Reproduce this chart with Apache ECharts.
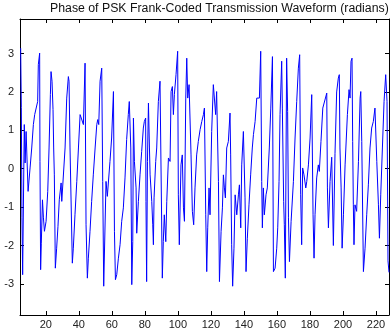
<!DOCTYPE html>
<html>
<head>
<meta charset="utf-8">
<script src="https://cdn.jsdelivr.net/npm/echarts@6/dist/echarts.min.js"></script>
<style>
  html, body { margin: 0; padding: 0; background: #fff; }
  #chart { width: 392px; height: 334px; }
</style>
</head>
<body>
<div id="chart"></div>
<script>
// sample positions and wrapped phase in radians
var sampleIdx = [
    4.8, 5.2, 5.6, 6.0, 7.0, 7.5, 8.1, 9.3, 10.5, 11.5, 12.5, 13.3, 14.5, 15.1, 15.5, 16.3, 16.5, 16.9, 17.3, 18.0,
    18.6, 19.2, 20.2, 21.2, 22.0, 22.8, 23.2, 23.8, 24.4, 24.8, 25.2, 25.8, 26.6, 27.4, 28.2, 29.3, 29.7, 31.7, 32.7, 33.7,
    34.1, 34.7, 36.1, 36.7, 37.7, 38.8, 39.8, 40.8, 41.8, 42.8, 43.8, 44.4, 45.2, 45.8, 46.8, 47.8, 48.8, 49.9, 50.9, 51.5,
    52.1, 52.9, 53.9, 54.5, 55.1, 56.5, 57.3, 58.9, 59.9, 61.0, 61.6, 62.2, 63.0, 64.0, 65.0, 66.0, 67.0, 68.0, 69.0, 70.0,
    70.6, 71.5, 72.1, 72.7, 73.1, 73.7, 74.7, 75.1, 76.1, 77.1, 78.1, 79.1, 79.7, 80.5, 80.7, 81.1, 81.6, 82.2, 82.8, 83.2,
    84.2, 84.8, 85.2, 85.6, 86.6, 87.2, 88.2, 89.2, 89.6, 90.6, 91.2, 91.8, 92.7, 93.3, 94.3, 95.3, 95.9, 96.7, 97.3, 97.9,
    98.9, 99.9, 100.3, 100.9, 101.3, 101.9, 102.7, 103.4, 104.0, 104.8, 105.4, 106.0, 106.8, 108.0, 108.8, 109.6, 110.4, 111.4, 112.4, 113.5,
    114.5, 115.5, 116.1, 116.9, 117.5, 118.1, 118.9, 119.5, 120.5, 121.5, 122.1, 122.9, 123.5, 124.6, 125.2, 126.2, 127.0, 127.6, 128.2, 128.8,
    129.6, 130.6, 131.6, 132.0, 132.6, 133.2, 134.0, 134.7, 135.7, 136.7, 137.3, 138.1, 138.7, 139.7, 140.3, 140.7, 141.3, 142.1, 143.1, 144.1,
    145.1, 145.8, 146.8, 147.8, 149.4, 150.2, 150.8, 151.2, 151.8, 152.4, 153.4, 154.2, 155.4, 156.3, 157.3, 157.9, 158.9, 159.9, 160.5, 161.3,
    161.9, 162.9, 163.3, 164.1, 164.5, 165.1, 165.9, 166.5, 167.0, 167.6, 168.6, 170.0, 171.0, 172.0, 173.0, 173.8, 174.4, 175.0, 175.6, 176.4,
    177.5, 178.1, 179.1, 180.1, 181.1, 181.9, 182.5, 183.1, 184.1, 185.1, 185.7, 186.7, 187.8, 188.8, 190.2, 190.6, 191.2, 192.2, 193.2, 194.2,
    195.2, 196.2, 197.2, 197.8, 198.2, 198.9, 199.5, 200.3, 201.3, 202.7, 203.7, 204.3, 204.9, 205.5, 205.9, 206.3, 206.7, 207.3, 208.3, 209.4,
    210.4, 210.8, 211.4, 212.4, 213.4, 214.4, 215.4, 216.4, 217.4, 218.4, 219.4, 220.0, 220.5, 221.5, 222.1, 222.9, 223.9, 224.9, 225.9, 226.7,
    227.3, 227.9
];
var phaseRad = [
    3.14, 1.6, -1.28, -2.76, 1.15, 0.15, 0.97, -0.59, 0.02, 0.54, 1.15, 1.41, 1.41, 1.75, 2.71, 3.01, 0.19, -2.63, -1.94, -0.81,
    -1.28, -1.63, -1.37, -0.59, 0.54, 1.93, 2.53, 2.28, 1.54, 0.54, -0.16, -2.59, -2.07, -1.5, -0.81, -0.37, -0.85, 0.54, 1.84, 2.40,
    2.28, 0.54, -2.46, -2.07, -1.2, -0.33, 0.54, 1.41, 1.45, 1.15, 2.75, -1.46, -2.85, -2.33, -1.63, -0.85, -0.16, 0.54, 1.15, 1.28,
    1.15, 2.28, 2.62, -0.33, -3.06, -0.33, -0.72, 0.19, 0.80, 2.01, -1.63, -2.89, -2.76, -2.33, -1.98, -1.37, -1.02, -0.24, 0.76, 1.41,
    1.75, 0.54, -3.02, -1.90, 1.32, 0.19, -0.50, -1.68, -0.85, -0.16, 0.45, 1.06, 1.23, 1.32, -0.85, -2.94, 0.19, 1.71, 0.54, -0.16,
    -0.85, -1.46, -1.98, -0.76, 0.19, 0.54, 1.75, 2.28, 2.32, -2.85, -1.90, -1.2, -1.90, -0.85, 0.28, 0.19, 2.01, 2.14, 1.41, 1.93,
    2.45, 3.06, -0.68, -1.98, -1.98, 0.10, 0.36, -1.02, -1.37, 1.84, 2.88, 1.84, 2.19, 0.36, -1.11, -1.46, -0.50, 0.36, 0.71, 1.02,
    1.23, 1.41, 1.58, -1.20, -2.68, -1.54, -0.50, -1.20, 0.97, 2.19, 2.19, 1.41, 2.01, -0.33, -2.94, -1.63, -1.02, -0.16, -0.50, -0.76,
    0.54, 0.71, 1.45, 0.36, -1.98, -3.06, -2.07, -0.68, -1.20, -0.68, -0.42, -1.54, 0.10, 0.97, 0.97, -0.76, -2.68, -1.81, -0.94, -0.16,
    0.54, 0.89, 1.23, 1.84, 1.84, 3.06, -0.33, -1.54, -0.50, -1.20, -0.68, -0.50, 0.54, 1.58, 2.92, -2.68, -2.59, -2.07, -1.54, -0.33,
    1.41, 2.80, 1.58, -0.85, -1.46, -2.85, 2.88, 1.49, -1.28, -2.42, -1.37, -0.33, 0.80, 1.75, 2.62, 2.97, -0.68, -1.98, 0.02, -0.16,
    -0.50, -0.33, 0.10, 0.80, 1.93, -1.20, -2.33, -1.20, -0.24, 0.10, -0.07, 0.71, 1.58, 1.58, 1.97, -0.50, -1.54, -0.33, 0.3, -2.0,
    0.4, 2.0, 2.36, 2.45, 0.54, -0.5, -2.07, -1.2, 0.1, 1.41, 2.06, 1.84, 2.80, 2.88, 0.71, -0.94, -1.98, -0.94, -1.11, 0.19,
    1.84, 2.01, 0.71, -2.68, -2.07, -1.2, -0.42, 0.54, 1.06, 1.23, 1.58, 1.6, 0.19, -0.94, -1.81, -0.68, 0.54, 1.75, 2.45, 1.75,
    -2.4, -2.7
];
var xTicks = [20, 40, 60, 80, 100, 120, 140, 160, 180, 200, 220];
var yTicks = [-3, -2, -1, 0, 1, 2, 3];

var myChart = echarts.init(document.getElementById('chart'), null, {renderer: 'canvas'});

var lineData = sampleIdx.map(function (x, i) {
    return [x, phaseRad[i]];
});

function boxAxis(pos, ticks, showLabel, min, max) {
    return {
        type: 'value',
        position: pos,
        min: min,
        max: max,
        axisLine: {show: true, onZero: false, lineStyle: {color: '#000', width: 1}},
        axisTick: {show: true, inside: true, length: 4, customValues: ticks, lineStyle: {color: '#000'}},
        axisLabel: {
            show: showLabel,
            customValues: ticks,
            color: '#222',
            fontSize: 11,
            fontFamily: 'Liberation Sans',
            margin: pos === 'bottom' ? 4 : 6
        },
        splitLine: {show: false}
    };
}

var option = {
    backgroundColor: '#fff',
    animation: false,
    graphic: [
        {
            type: 'text',
            left: 50,
            top: 3,
            style: {
                text: 'Phase of PSK Frank-Coded Transmission Waveform (radians)',
                fontSize: 12.3,
                fontFamily: 'Liberation Sans',
                fill: '#111'
            }
        }
    ],
    grid: {left: 20, top: 19, width: 369, height: 296, containLabel: false},
    xAxis: [
        boxAxis('bottom', xTicks, true, 4.4, 227.9),
        boxAxis('top', xTicks, false, 4.4, 227.9)
    ],
    yAxis: [
        boxAxis('left', yTicks, true, -3.81, 3.9),
        boxAxis('right', yTicks, false, -3.81, 3.9)
    ],
    series: [
        {
            type: 'line',
            data: lineData,
            showSymbol: false,
            symbol: 'none',
            clip: true,
            lineStyle: {color: '#0000ff', width: 1}
        }
    ]
};
myChart.setOption(option, true);
</script>
</body>
</html>
